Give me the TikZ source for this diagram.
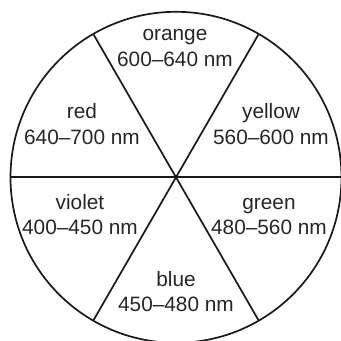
\documentclass[tikz,border=0pt]{standalone}
\usepackage{fontspec}
\setmainfont{Liberation Sans}
\usetikzlibrary{positioning}
\begin{document}
\begin{tikzpicture}[x=1pt, y=-1pt,
    rim/.style={line width=1.7pt, color=black!90},
    band/.style={font=\fontsize{20.8}{26}\selectfont, inner sep=0pt,
      anchor=base, color=black!85}]
  \useasboundingbox (0,0) rectangle (341,341);
  \clip (0,0) rectangle (341,341);
  \coordinate (c) at (176,177.3);
  % wheel and the three dividing lines
  \draw[rim] (c) circle[radius=165.5];
  \draw[rim] (c) ++(180:165.5) -- ++(0:331);
  \draw[rim] (c) ++(120:165.5) -- ++(300:331);
  \draw[rim] (c) ++(60:165.5) -- ++(240:331);
  % colour bands
  \node[band] (orange) at (175,40.7) {orange};
  \node[band] (orangenm) at (175,66.7) {600--640 nm};
  \node[band] (red) at (82,118.3) {red};
  \node[band] (rednm) at (82,144.5) {640--700 nm};
  \node[band] (yellow) at (271,118.3) {yellow};
  \node[band] (yellownm) at (271,144.5) {560--600 nm};
  \node[band] (violet) at (80,209.3) {violet};
  \node[band] (violetnm) at (80,234.3) {400--450 nm};
  \node[band] (green) at (269,209.3) {green};
  \node[band] (greennm) at (269,234.3) {480--560 nm};
  \node[band] (blue) at (176,286.7) {blue};
  \node[band] (bluenm) at (176,311.7) {450--480 nm};
\end{tikzpicture}
\end{document}
